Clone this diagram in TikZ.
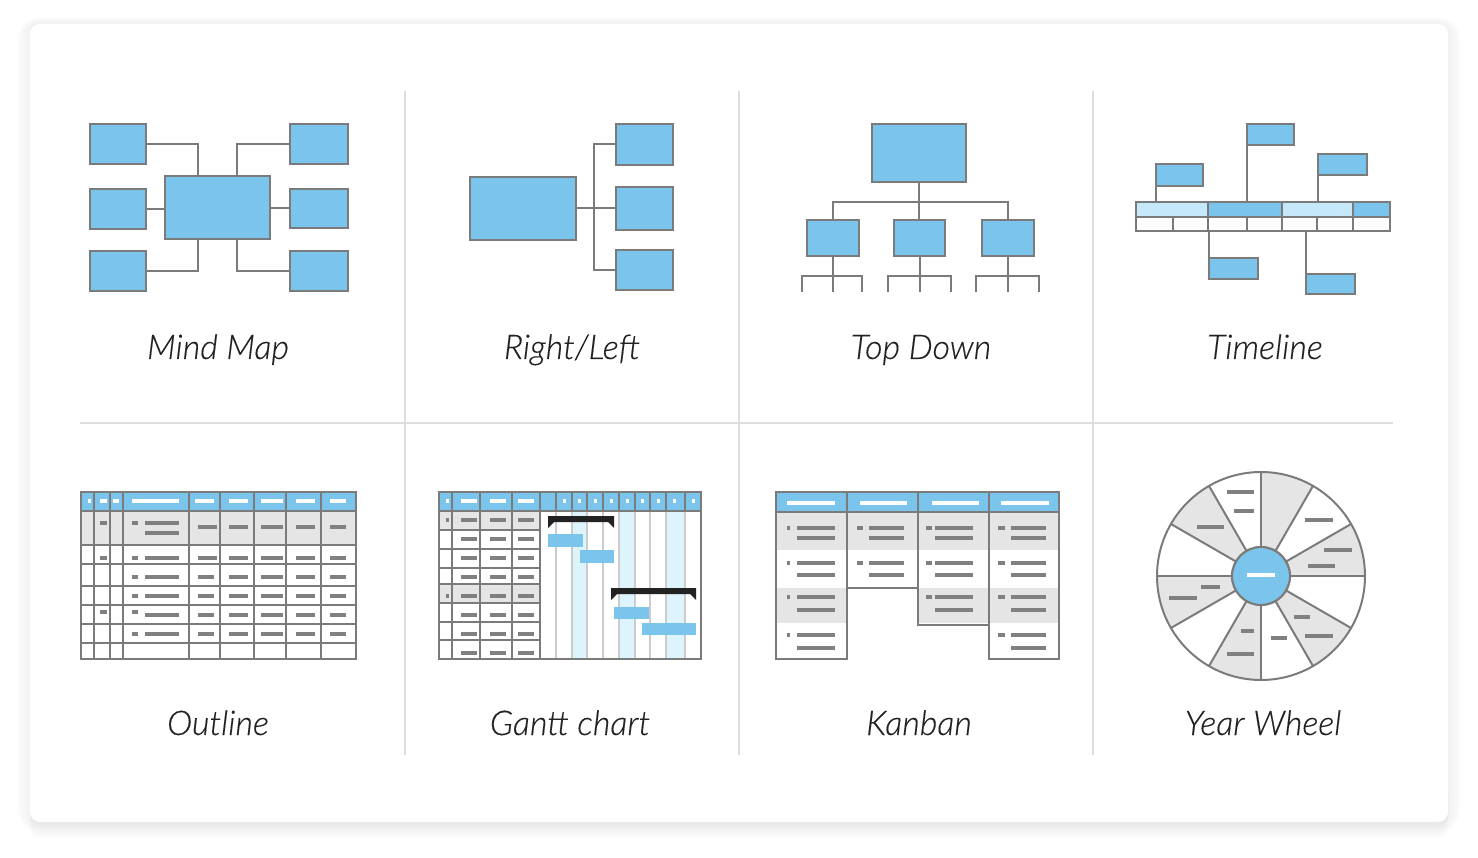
\documentclass[tikz,border=0pt]{standalone}
\usepackage{fontspec}
\setmainfont{Lato}[ItalicFont={Lato Light Italic}, ItalicFeatures={FakeBold=0.25}]
\usetikzlibrary{calc, positioning}
\definecolor{skyblue}{HTML}{7BC5EC}
\definecolor{paleblue}{HTML}{C5E9FB}
\definecolor{iceblue}{HTML}{DDF4FD}
\definecolor{linegray}{HTML}{7B7B7B}
\definecolor{dashgray}{HTML}{808080}
\definecolor{rowgray}{HTML}{E5E5E5}
\definecolor{rulegray}{HTML}{DEDEDE}
\definecolor{chartgray}{HTML}{CCCCCC}
\definecolor{inkblack}{HTML}{222222}

\begin{document}
\begin{tikzpicture}[x=1pt, y=-1pt,
        wh/.style 2 args={minimum width=#1, minimum height=#2},
        bluebox/.style={draw=linegray, fill=skyblue, line width=2.2pt, inner sep=0pt, outer sep=0pt},
        palebox/.style={bluebox, fill=paleblue},
        plainbox/.style={bluebox, fill=white},
        link/.style={draw=linegray, line width=2pt},
        thinlink/.style={draw=linegray, line width=1.6pt},
        gridline/.style={draw=linegray, line width=2pt},
        greydash/.style={draw=dashgray, line width=4pt},
        whitedash/.style={draw=white, line width=4pt},
        blackbar/.style={fill=inkblack},
        rule/.style={draw=rulegray, line width=2pt},
        caption/.style={font=\fontsize{34}{38}\selectfont\itshape, text=inkblack, inner sep=0pt, anchor=base}
    ]
    \useasboundingbox (0,0) rectangle (1478,858);
    \fill[white] (0,0) rectangle (1478,858);
    \foreach \r in {12,11,...,1} {
        \pgfmathsetmacro{\shade}{(16-\r)*0.35}
        \fill[black!\shade!white, rounded corners=10+\r] (30-\r,24-\r*0.5) rectangle (1448+\r,822+\r*0.8);
    }
    \foreach \r in {16,15,...,1} {
        \pgfmathsetmacro{\shade}{(17-\r)*0.55}
        \fill[black!\shade!white, rounded corners=10] (30,780) rectangle (1448,822+\r);
    }
    \fill[white, rounded corners=10] (30,24) rectangle (1448,822);

    \draw[rule]
        (405,91) -- (405,755)
        (739,91) -- (739,755)
        (1093,91) -- (1093,755)
        (80,423) -- (1393,423);

    \node[bluebox, wh={105}{63}] (mmain) at (217.5,207.5) {};
    \node[bluebox, wh={56}{40}] (mtl) at (118,144) {};
    \node[bluebox, wh={56}{40}] (mml) at (118,209) {};
    \node[bluebox, wh={56}{40}] (mbl) at (118,271) {};
    \node[bluebox, wh={58}{40}] (mtr) at (319,144) {};
    \node[bluebox, wh={58}{39}] (mmr) at (319,208.5) {};
    \node[bluebox, wh={58}{40}] (mbr) at (319,271) {};
    \draw[link]
        (mtl.east) -| ($(mmain.north)+(-19.5,0)$)
        (mtr.west) -| ($(mmain.north)+(19.5,0)$)
        (mbl.east) -| ($(mmain.south)+(-19.5,0)$)
        (mbr.west) -| ($(mmain.south)+(19.5,0)$)
        (mml.east) -- (mml.east -| mmain.west)
        (mmr.west) -- (mmr.west -| mmain.east);
    \node[caption] (mcap) at (218,359) {Mind Map};

    \node[bluebox, wh={106}{63}] (rmain) at (523,208.5) {};
    \node[bluebox, wh={57}{41}] (rtop) at (644.5,144.5) {};
    \node[bluebox, wh={57}{43}] (rmid) at (644.5,208.5) {};
    \node[bluebox, wh={57}{40}] (rbot) at (644.5,270) {};
    \coordinate (rbus) at (594,208);
    \draw[link]
        (rmain.east) -- (rmid.west)
        (rtop.west) -| (rbus) |- (rbot.west);
    \node[caption] (rcap) at (572,359) {Right/Left};

    \node[bluebox, wh={94}{58}] (troot) at (919,153) {};
    \node[bluebox, wh={52}{36}] (tkida) at (833,238) {};
    \node[bluebox, wh={51}{36}] (tkidb) at (919.5,238) {};
    \node[bluebox, wh={52}{36}] (tkidc) at (1008,238) {};
    \coordinate (tbus) at (919,202);
    \draw[link]
        (troot.south) -- (troot.south |- tkidb.north)
        (tkida.north) |- (tbus) -| (tkidc.north);
    \foreach \k/\l/\r in {tkida/802/862, tkidb/888/951, tkidc/976/1039} {
        \draw[thinlink] (\l,292) -- (\l,276) -- (\r,276) -- (\r,292);
        \draw[link] (\k.south) -- (\k.south |- 0,292);
    }
    \node[caption] (tcap) at (921,359) {Top Down};

    \node[palebox, wh={72}{15}] (lsega) at (1172,209.5) {};
    \node[bluebox, wh={74}{15}] (lsegb) at (1245,209.5) {};
    \node[palebox, wh={71}{15}] (lsegc) at (1317.5,209.5) {};
    \node[bluebox, wh={37}{15}] (lsegd) at (1371.5,209.5) {};
    \node[plainbox, wh={254}{14}] (lrow) at (1263,224) {};
    \foreach \x in {1173,1208,1247,1282,1317,1353}
        \draw[link] (\x,217) -- (\x,231);
    \node[bluebox, wh={47}{21}] (ltop) at (1270.5,134.5) {};
    \node[bluebox, wh={47}{22}] (lleft) at (1179.5,175) {};
    \node[bluebox, wh={49}{21}] (lright) at (1342.5,164.5) {};
    \node[bluebox, wh={49}{21}] (llowa) at (1233.5,268.5) {};
    \node[bluebox, wh={49}{20}] (llowb) at (1330.5,284) {};
    \draw[link]
        (ltop.south west) -- (ltop.south west |- lsegb.north)
        (lleft.south west) -- (lleft.south west |- lsega.north)
        (lright.south west) -- (lright.south west |- lsegc.north)
        (llowa.north west) -- (llowa.north west |- lrow.south)
        (llowb.north west) -- (llowb.north west |- lrow.south);
    \node[caption] (lcap) at (1265,359) {Timeline};

    \fill[skyblue] (81,492) rectangle (356,511);
    \fill[rowgray] (81,511) rectangle (356,545);
    \draw[gridline] (81,492) rectangle (356,659);
    \foreach \y in {511,545,564,586,605,624,643}
        \draw[gridline] (81,\y) -- (356,\y);
    \foreach \x in {94,110,123,189,220,254,286,321}
        \draw[gridline] (\x,492) -- (\x,659);
    \foreach \a/\b in {87.5/90.5,100/107,113/119,132/179,195/214,229/248,261/283,296/315,330/346}
        \draw[whitedash] (\a,501) -- (\b,501);
    \foreach \y/\s in {523/523,558/558,577/577,596/596,615/612,634/634} {
        \draw[greydash] (132,\s) -- (138,\s);
        \draw[greydash] (144.5,\y) -- (179,\y);
    }
    \draw[greydash] (144.5,533) -- (179,533);
    \foreach \y in {523,558,612}
        \draw[greydash] (100,\y) -- (107,\y);
    \draw[greydash] (198,527) -- (217,527) (198,558) -- (217,558);
    \foreach \y in {577,596,615,634}
        \draw[greydash] (198,\y) -- (214,\y);
    \foreach \y in {527,558,577,596,615,634} {
        \draw[greydash] (229,\y) -- (248,\y);
        \draw[greydash] (261,\y) -- (283,\y);
        \draw[greydash] (296,\y) -- (315,\y);
        \draw[greydash] (330,\y) -- (346,\y);
    }
    \node[caption] (ocap) at (218,735) {Outline};

    \fill[iceblue] (572,511) rectangle (587,659);
    \fill[iceblue] (619,511) rectangle (635,659);
    \fill[iceblue] (666,511) rectangle (685,659);
    \fill[skyblue] (439,492) rectangle (701,511);
    \fill[rowgray] (439,511) rectangle (540,530);
    \fill[rowgray] (439,584) rectangle (540,603);
    \foreach \x in {556,572,587,603,619,635,650,666,685} {
        \draw[chartgray, line width=2pt] (\x,511) -- (\x,659);
        \draw[gridline] (\x,492) -- (\x,511);
    }
    \draw[gridline] (439,492) rectangle (701,659);
    \draw[gridline] (439,511) -- (701,511);
    \foreach \y in {530,549,568,584,603,622,640}
        \draw[gridline] (439,\y) -- (540,\y);
    \foreach \x in {452,480,512,540}
        \draw[gridline] (\x,492) -- (\x,659);
    \foreach \x in {447,564,579,595,611,627,642,658,674,693}
        \draw[whitedash] (\x-1.5,501) -- (\x+1.5,501);
    \foreach \a/\b in {461/477,490/506,518/534}
        \draw[whitedash] (\a,501) -- (\b,501);
    \foreach \y in {520,539,558,577,596,615,634,653} {
        \draw[greydash] (461,\y) -- (477,\y);
        \draw[greydash] (490,\y) -- (506,\y);
        \draw[greydash] (518,\y) -- (534,\y);
    }
    \foreach \y in {520,596}
        \draw[greydash] (445.5,\y) -- (448.5,\y);
    \fill[blackbar] (548,516) -- (614,516) -- (614,528) -- (608,522) -- (554,522) -- (548,528) -- cycle;
    \fill[blackbar] (611,588) -- (696,588) -- (696,600) -- (690,594) -- (617,594) -- (611,600) -- cycle;
    \fill[skyblue] (548,534) rectangle (583,547);
    \fill[skyblue] (580,550) rectangle (614,563);
    \fill[skyblue] (614,607) rectangle (649,619);
    \fill[skyblue] (642,623) rectangle (696,635);
    \node[caption] (gcap) at (570,735) {Gantt chart};

    \fill[skyblue] (776,492) rectangle (1059,512);
    \foreach \a/\b in {776/847,847/918,918/989,989/1059} {
        \fill[rowgray] (\a,512) rectangle (\b,550);
    }
    \fill[rowgray] (776,588) rectangle (847,623);
    \fill[rowgray] (918,588) rectangle (989,623);
    \fill[rowgray] (989,588) rectangle (1059,623);
    \draw[gridline] (776,492) -- (1059,492);
    \draw[gridline] (776,512) -- (1059,512);
    \draw[gridline] (776,492) rectangle (847,659);
    \draw[gridline] (847,492) rectangle (918,588);
    \draw[gridline] (918,492) rectangle (989,625);
    \draw[gridline] (989,492) rectangle (1059,659);
    \foreach \a/\b in {787/835,860/907,932/979,1001/1049}
        \draw[whitedash] (\a,503) -- (\b,503);
    \foreach \sa/\sb/\la/\lb/\rows in {
            787/790/797/835/{528/538,563/575,597/610,635/648},
            857/863/869/904/{528/538,563/575},
            926/932/935/973/{528/538,563/575,597/610},
            998/1005/1011/1046/{528/538,563/575,597/610,635/648}} {
        \foreach \u/\v in \rows {
            \draw[greydash] (\sa,\u) -- (\sb,\u);
            \draw[greydash] (\la,\u) -- (\lb,\u);
            \draw[greydash] (\la,\v) -- (\lb,\v);
        }
    }
    \node[caption] (kcap) at (919,735) {Kanban};

    \begin{scope}[shift={(1261,576)}, yscale=-1]
        \foreach \a in {0,60,120,180,240,300}
            \fill[rowgray] (0,0) -- (\a:104) arc (\a:\a+30:104) -- cycle;
        \foreach \a in {0,30,...,330}
            \draw[link] (0,0) -- (\a:104);
        \draw[link] (0,0) circle[radius=104];
    \end{scope}
    \node[bluebox, circle, minimum size=58] (yhub) at (1261,576) {};
    \foreach \a/\b/\y in {1227/1254/492,1234/1254/511,1197/1224/527,1305/1333/520,1324/1352/550,1308/1335/566,1201/1220/587,1169/1197/598,1294/1310/617,1305/1333/636,1271/1287/638,1241/1254/631,1227/1254/654}
        \draw[greydash] (\a,\y) -- (\b,\y);
    \draw[whitedash] (1247,575) -- (1275,575);
    \node[caption] (ycap) at (1263,735) {Year Wheel};
\end{tikzpicture}
\end{document}
